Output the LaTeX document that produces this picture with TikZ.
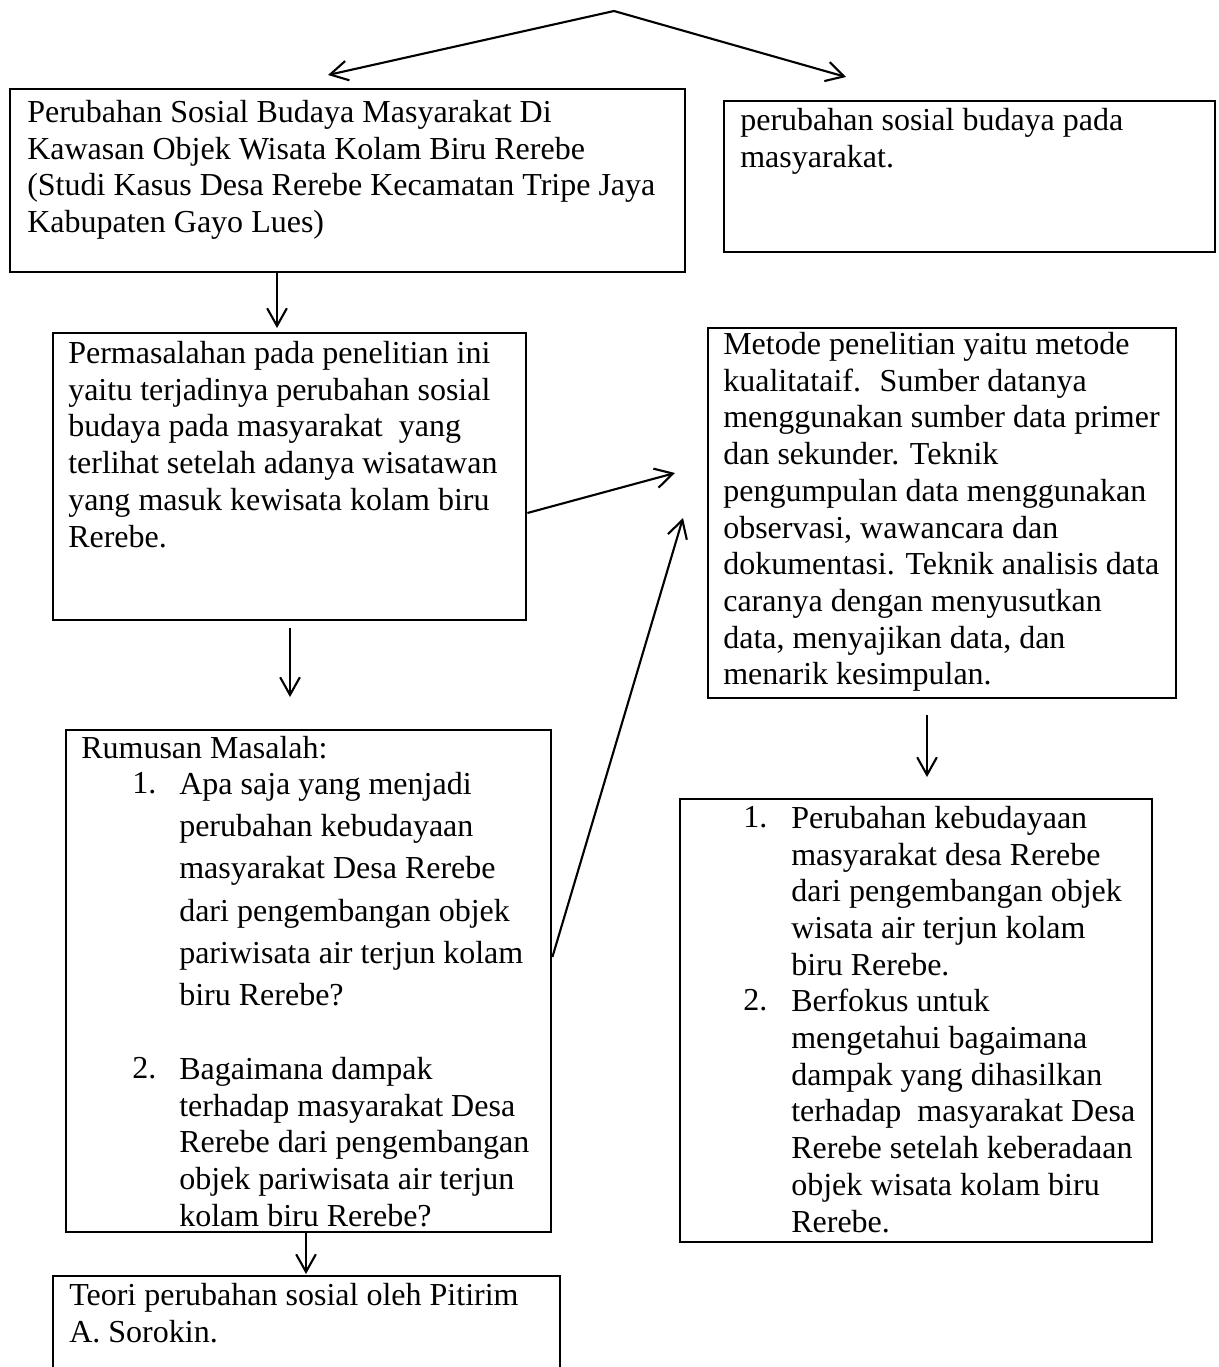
\documentclass[tikz,border=0pt]{standalone}
\usepackage{fontspec}
\setmainfont{Liberation Serif}
\usetikzlibrary{arrows.meta,fit}

\tikzset{
kotak/.style={draw, line width=2pt, inner sep=0pt},
teks/.style={anchor=north west, align=left, inner sep=0pt, font=\fontsize{22.76}{26.1}\selectfont},
teksb/.style={teks, font=\fontsize{22.76}{30}\selectfont},
panah/.style={-{Straight Barb[length=12.5pt,width=14pt]}, line width=1.5pt},
}

\begin{document}
\begin{tikzpicture}[x=0.025cm, y=-0.025cm]
\useasboundingbox (0,0) rectangle (1218,1367);
\clip (0,0) rectangle (1218,1367);

\node[kotak, fit={(10,89) (685,272)}] (judul) {};
\node[kotak, fit={(724,101) (1215,252)}] (ringkas) {};
\node[kotak, fit={(53,333) (526,620)}] (masalah) {};
\node[kotak, fit={(708,328) (1176,698)}] (metode) {};
\node[kotak, fit={(66,730) (551,1232)}] (rumusan) {};
\node[kotak, fit={(680,799) (1152,1242)}] (hasil) {};
\node[kotak, fit={(53,1276) (560,1420)}] (teori) {};

\node[teks] (judulteks) at (27,100) {Perubahan Sosial Budaya Masyarakat Di\\
Kawasan Objek Wisata Kolam Biru Rerebe\\
(Studi Kasus Desa Rerebe Kecamatan Tripe Jaya\\
Kabupaten Gayo Lues)};

\node[teks] (ringkasteks) at (740,108) {perubahan sosial budaya pada\\
masyarakat.};

\node[teks] (masalahteks) at (68,341) {Permasalahan pada penelitian ini\\
yaitu terjadinya perubahan sosial\\
budaya pada masyarakat~ yang\\
terlihat setelah adanya wisatawan\\
yang masuk kewisata kolam biru\\
Rerebe.};

\node[teks] (metodeteks) at (723,332) {Metode penelitian yaitu metode\\
kualitataif.~ Sumber datanya\\
menggunakan sumber data primer\\
dan sekunder. Teknik\\
pengumpulan data menggunakan\\
observasi, wawancara dan\\
dokumentasi. Teknik analisis data\\
caranya dengan menyusutkan\\
data, menyajikan data, dan\\
menarik kesimpulan.};

\node[teks] (rumusanteks) at (81,736) {Rumusan Masalah:};
\node[teks] (rno1) at (132,772) {1.};
\node[teksb] (rbutir1) at (179,772) {Apa saja yang menjadi\\
perubahan kebudayaan\\
masyarakat Desa Rerebe\\
dari pengembangan objek\\
pariwisata air terjun kolam\\
biru Rerebe?};
\node[teks] (rno2) at (132,1057) {2.};
\node[teks] (rbutir2) at (179,1057) {Bagaimana dampak\\
terhadap masyarakat Desa\\
Rerebe dari pengembangan\\
objek pariwisata air terjun\\
kolam biru Rerebe?};

\node[teks] (hno1) at (743,806) {1.};
\node[teks] (hbutir1) at (791,806) {Perubahan kebudayaan\\
masyarakat desa Rerebe\\
dari pengembangan objek\\
wisata air terjun kolam\\
biru Rerebe.};
\node[teks] (hno2) at (743,989) {2.};
\node[teks] (hbutir2) at (791,989) {Berfokus untuk\\
mengetahui bagaimana\\
dampak yang dihasilkan\\
terhadap~ masyarakat Desa\\
Rerebe setelah keberadaan\\
objek wisata kolam biru\\
Rerebe.};

\node[teks] (teoriteks) at (69,1283) {Teori perubahan sosial oleh Pitirim\\
A. Sorokin.};

\coordinate (puncak) at (614,11);
\coordinate (ujungkiri) at (328,75);
\coordinate (ujungkanan) at (846,77);
\draw[panah] (puncak) -- (ujungkiri);
\draw[panah] (puncak) -- (ujungkanan);

\coordinate (m1) at (277,328);
\draw[panah] (judul.south -| m1) -- (m1);

\coordinate (m2a) at (290,628);
\coordinate (m2b) at (290,697);
\draw[panah] (m2a) -- (m2b);

\coordinate (m3) at (675,473);
\draw[panah] (masalah.east |- 0,513) -- (m3);

\coordinate (m4) at (683,518);
\draw[panah] (rumusan.east |- 0,957) -- (m4);

\coordinate (m5) at (306,1274);
\draw[panah] (rumusan.south -| m5) -- (m5);

\coordinate (m6a) at (927,715);
\coordinate (m6b) at (927,777);
\draw[panah] (m6a) -- (m6b);

\end{tikzpicture}
\end{document}
